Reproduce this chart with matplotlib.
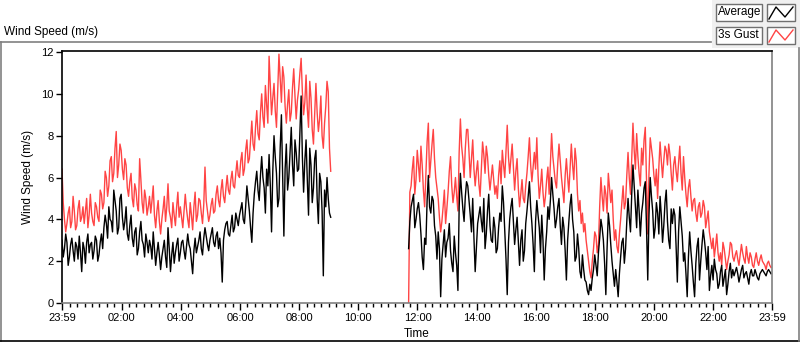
import numpy as np
import matplotlib.pyplot as plt
from matplotlib.lines import Line2D
from matplotlib.patches import Rectangle

plt.rcParams['font.family'] = ['Liberation Sans', 'DejaVu Sans']

# ---- data: minutes after midnight, one reading every 2.5 min ----
STEP = 2.5
start_a = -1     # 23:59 (previous day)
start_b = 702    # 11:42, after the logging gap

gust_a = [6.4, 4.8, 4.0, 3.4, 3.8, 4.3, 4.6, 3.6, 3.9, 5.1, 4.4, 3.5, 3.7, 4.5, 4.9, 3.9, 4.1, 4.6, 3.8, 4.4, 5.0, 3.6, 4.2, 5.2,
          4.3, 3.9, 3.7, 4.8, 4.6, 4.1, 3.9, 5.4, 5.2, 4.5, 4.8, 6.3, 6.0, 5.1, 5.6, 6.8, 7.0, 5.8, 6.2, 7.4, 8.2, 6.0, 6.6, 7.6,
          7.3, 6.4, 5.9, 6.9, 6.6, 5.5, 5.1, 5.8, 6.2, 5.0, 4.6, 5.7, 5.4, 4.7, 4.4, 6.9, 5.9, 4.8, 4.3, 5.4, 5.0, 4.2, 4.6, 5.1,
          4.3, 4.9, 5.6, 4.2, 3.6, 4.4, 4.9, 3.9, 3.3, 4.0, 4.5, 5.1, 3.9, 4.6, 5.7, 4.4, 4.1, 3.6, 4.8, 4.2, 3.7, 4.6, 5.3, 4.1,
          4.6, 4.1, 3.6, 4.4, 5.2, 4.5, 4.0, 3.6, 4.8, 4.2, 3.5, 4.6, 5.3, 3.9, 4.2, 5.0, 4.9, 4.3, 3.8, 4.7, 6.5, 4.9, 4.4, 3.9,
          4.2, 4.7, 5.0, 4.3, 4.4, 5.2, 5.6, 4.9, 4.6, 5.4, 5.9, 5.1, 4.8, 5.5, 6.1, 5.4, 5.2, 5.9, 6.3, 5.6, 5.5, 6.2, 6.8, 6.1,
          6.0, 6.8, 7.2, 6.1, 6.4, 7.3, 7.8, 6.7, 6.9, 7.8, 8.7, 7.6, 7.3, 8.4, 9.2, 8.1, 7.8, 9.1, 10.0, 8.9, 8.4, 10.4, 9.5, 8.6,
          11.8, 10.4, 9.0, 9.8, 10.5, 9.2, 8.4, 10.1, 11.9, 10.7, 9.6, 11.3, 10.8, 9.4, 8.6, 9.5, 10.2, 8.7, 9.1, 10.3, 11.2, 9.9, 8.8, 9.7,
          10.2, 11.0, 11.7, 10.1, 9.0, 9.6, 10.9, 9.3, 8.4, 10.6, 9.8, 8.3, 7.6, 9.0, 10.5, 9.1, 8.2, 8.8, 9.9, 8.0, 7.4, 8.6, 9.4, 10.6,
          10.1, 7.4, 6.3]
avg_a = [3.0, 2.2, 2.6, 3.3, 2.9, 1.8, 2.2, 2.8, 3.1, 2.5, 2.0, 2.9, 2.7, 2.1, 3.2, 2.4, 1.5, 2.9, 2.6, 1.9, 2.9, 3.3, 2.4, 2.8,
         2.9, 2.1, 2.5, 3.2, 3.0, 2.0, 2.3, 2.9, 3.3, 2.6, 3.6, 4.2, 3.8, 3.1, 4.6, 4.0, 3.9, 3.4, 5.4, 4.9, 4.4, 3.3, 3.6, 5.0,
         5.2, 4.1, 3.5, 3.9, 4.6, 3.3, 3.0, 3.7, 4.2, 3.1, 2.7, 3.4, 3.6, 2.3, 2.6, 3.4, 3.9, 3.0, 2.8, 2.2, 3.3, 2.9, 2.4, 3.0,
         2.7, 2.1, 3.4, 2.6, 1.8, 2.4, 2.9, 2.3, 1.6, 2.2, 2.6, 3.0, 2.2, 1.7, 3.6, 2.6, 1.5, 2.3, 2.9, 1.9, 2.4, 2.8, 3.1, 2.0,
         2.4, 2.9, 3.0, 2.5, 2.1, 2.7, 3.3, 2.8, 2.6, 2.0, 1.4, 2.5, 3.1, 2.4, 2.7, 3.0, 3.4, 2.6, 2.3, 3.1, 3.6, 3.2, 2.8, 2.5,
         3.0, 3.3, 3.6, 2.9, 2.7, 3.2, 3.4, 2.6, 3.1, 2.4, 1.0, 3.0, 3.5, 3.8, 3.9, 3.3, 3.2, 3.7, 4.2, 3.4, 3.6, 4.3, 4.0, 3.7,
         4.2, 4.5, 4.8, 4.0, 3.8, 4.6, 5.6, 5.0, 4.4, 3.6, 2.9, 4.3, 5.2, 5.8, 6.3, 5.4, 4.9, 6.1, 7.0, 6.0, 5.5, 4.3, 6.4, 5.6,
         7.1, 5.6, 3.4, 6.3, 8.0, 7.0, 6.2, 4.6, 5.0, 7.4, 9.0, 6.1, 3.2, 6.4, 7.6, 5.4, 6.0, 7.2, 8.4, 6.6, 5.6, 7.8, 7.2, 6.3,
         6.4, 8.1, 9.9, 7.0, 5.3, 6.8, 7.8, 5.9, 4.2, 7.4, 6.6, 4.8, 5.5, 6.9, 7.3, 5.0, 3.8, 6.2, 5.8, 4.4, 1.3, 5.4, 4.6, 6.0,
         5.0, 4.3, 4.1]

gust_b = [0.0, 5.3, 5.6, 6.4, 7.0, 5.2, 5.9, 7.3, 6.6, 5.8, 7.5, 6.6, 5.4, 4.6, 6.2, 7.7, 8.6, 6.0, 6.8, 7.6, 8.3, 6.9, 6.0, 5.5,
          5.0, 4.1, 3.4, 3.9, 4.6, 5.4, 3.8, 4.5, 5.3, 6.3, 7.0, 5.6, 4.8, 5.3, 6.0, 5.1, 4.4, 7.2, 8.8, 7.5, 6.9, 6.0, 7.4, 8.3,
          8.3, 7.2, 6.0, 6.9, 7.8, 6.4, 5.6, 6.3, 6.8, 5.7, 5.1, 6.4, 7.7, 7.1, 6.2, 7.5, 7.0, 6.1, 5.4, 6.0, 6.6, 5.9, 5.2, 5.6,
          5.0, 6.1, 6.8, 5.7, 7.3, 6.6, 6.0, 7.2, 8.5, 7.0, 6.2, 6.9, 7.6, 6.5, 5.4, 6.3, 6.9, 5.5, 4.6, 5.2, 5.9, 5.0, 4.8, 5.6,
          6.2, 7.0, 7.9, 6.6, 5.8, 6.5, 7.2, 6.4, 7.9, 6.1, 5.0, 5.6, 6.4, 5.3, 4.6, 5.1, 5.9, 6.5, 5.2, 6.6, 8.1, 7.0, 6.4, 5.8,
          5.5, 6.7, 7.6, 6.8, 6.0, 5.4, 4.8, 6.1, 6.9, 6.0, 5.3, 6.5, 7.6, 6.6, 5.9, 7.4, 6.8, 5.2, 4.4, 4.9, 3.8, 4.3, 3.4, 3.8,
          3.0, 2.5, 2.0, 1.5, 1.2, 2.0, 2.6, 3.4, 3.2, 2.4, 2.8, 4.6, 6.0, 5.1, 4.4, 5.6, 5.2, 4.3, 6.2, 5.5, 4.8, 5.4, 4.0, 3.0,
          3.5, 2.7, 2.4, 3.3, 4.0, 4.8, 5.6, 4.5, 4.8, 6.1, 7.2, 6.0, 5.2, 6.9, 8.6, 7.3, 6.4, 8.1, 7.0, 6.2, 5.6, 7.4, 6.6, 7.8,
          8.4, 5.8, 3.3, 6.2, 7.9, 7.4, 6.9, 6.1, 5.6, 6.4, 5.0, 6.5, 7.7, 6.8, 6.0, 6.8, 7.5, 7.3, 6.6, 7.6, 7.1, 6.2, 5.4, 6.6,
          7.0, 6.3, 5.8, 6.7, 7.5, 6.2, 5.4, 7.0, 6.0, 5.2, 4.6, 5.5, 5.9, 5.1, 4.4, 4.9, 5.0, 4.3, 3.9, 4.6, 4.8, 4.1, 4.3, 4.9,
          4.6, 3.6, 4.0, 4.4, 3.4, 3.0, 2.6, 3.1, 2.2, 2.7, 3.3, 2.4, 2.0, 2.4, 1.8, 2.9, 2.6, 2.1, 1.6, 2.0, 2.3, 2.9, 2.8, 2.2,
          2.0, 2.3, 2.5, 2.1, 1.8, 2.3, 2.8, 2.4, 2.1, 1.9, 2.7, 2.2, 1.9, 2.4, 2.2, 1.8, 1.7, 2.1, 2.4, 2.0, 1.8, 2.1, 2.3, 2.0,
          1.9, 1.8, 1.6, 1.9, 2.0, 1.8, 1.7]
avg_b = [2.6, 3.9, 4.6, 4.9, 5.2, 3.6, 4.0, 4.5, 4.8, 4.2, 3.3, 2.2, 1.6, 3.1, 2.8, 4.9, 6.1, 4.6, 4.3, 5.1, 4.9, 3.7, 3.2, 2.1,
         3.4, 2.6, 0.3, 2.1, 2.8, 3.5, 2.2, 2.9, 3.1, 3.8, 2.5, 1.9, 1.5, 3.2, 2.4, 1.8, 0.6, 4.6, 6.2, 5.3, 4.5, 3.9, 5.1, 5.8,
         5.6, 4.9, 4.2, 3.4, 5.0, 3.1, 1.5, 2.7, 3.8, 4.2, 4.6, 3.9, 3.4, 5.0, 2.6, 3.3, 4.4, 5.2, 3.7, 3.0, 2.9, 4.1, 3.6, 2.4,
         2.6, 3.6, 4.3, 3.9, 5.6, 4.8, 3.4, 2.1, 0.4, 2.9, 4.0, 4.6, 5.0, 3.9, 2.8, 3.5, 4.1, 2.9, 1.8, 3.0, 3.5, 2.0, 2.5, 3.8,
         4.4, 5.1, 5.8, 4.6, 3.8, 2.8, 1.5, 3.9, 4.9, 4.2, 3.6, 2.4, 4.2, 3.0, 1.1, 2.6, 3.4, 4.6, 4.0, 4.9, 6.0, 5.2, 4.5, 3.6,
         4.0, 4.6, 5.0, 3.7, 2.8, 4.1, 3.6, 2.5, 1.1, 3.0, 3.9, 4.7, 5.2, 4.0, 3.4, 2.0, 2.2, 3.3, 2.6, 1.5, 1.2, 2.3, 1.6, 1.1,
         1.0, 0.6, 0.4, 0.9, 0.6, 1.2, 1.6, 2.3, 1.8, 1.3, 2.4, 3.1, 4.0, 3.6, 3.0, 1.9, 0.4, 2.6, 4.3, 3.7, 2.8, 2.0, 1.4, 0.8,
         1.6, 1.0, 0.3, 1.4, 2.2, 2.9, 3.1, 1.9, 2.6, 3.9, 5.0, 4.1, 3.4, 5.2, 6.6, 5.6, 4.6, 3.6, 5.4, 4.4, 3.2, 4.3, 4.8, 5.5,
         5.8, 3.6, 1.1, 4.2, 6.0, 5.1, 4.4, 3.1, 3.6, 4.8, 4.3, 3.3, 5.1, 4.2, 2.9, 3.7, 4.8, 5.4, 3.9, 3.0, 2.6, 4.5, 3.8, 4.5,
         4.2, 2.7, 1.0, 3.4, 4.6, 3.9, 3.2, 2.0, 2.4, 1.4, 0.3, 2.2, 3.4, 2.5, 1.8, 1.0, 0.3, 1.9, 2.7, 3.1, 1.1, 2.0, 2.8, 3.5,
         3.0, 2.4, 1.6, 2.7, 0.6, 1.3, 1.8, 1.1, 2.1, 1.6, 1.4, 0.7, 0.9, 1.5, 1.8, 0.8, 1.2, 1.6, 0.4, 0.9, 1.5, 1.9, 1.2, 1.6,
         1.3, 1.5, 1.7, 1.4, 1.0, 1.3, 1.6, 1.8, 1.2, 1.4, 1.5, 1.2, 0.9, 1.4, 1.6, 1.3, 1.3, 1.6, 1.4, 1.2, 1.1, 1.4, 1.5, 1.6,
         1.5, 1.4, 1.3, 1.5, 1.6, 1.5, 1.4]

tick_pos = [-1, 120, 240, 360, 480, 600, 720, 840, 960, 1080, 1200, 1320, 1439]
tick_lab = ["23:59", "02:00", "04:00", "06:00", "08:00", "10:00", "12:00",
            "14:00", "16:00", "18:00", "20:00", "22:00", "23:59"]
y_ticks = [0, 2, 4, 6, 8, 10, 12]

t_a = start_a + STEP * np.arange(len(gust_a))
t_b = start_b + STEP * np.arange(len(gust_b))

RED = "#ff4444"

# ---- figure ----
W, H = 800, 342
fig = plt.figure(figsize=(W / 100, H / 100), dpi=100)

ax = fig.add_axes([62 / W, 1 - 303 / H, (772 - 62) / W, (303 - 51) / H])
for t, g in ((t_a, gust_a), (t_b, gust_b)):
    ax.plot(t, g, color=RED, lw=1.0)
for t, a in ((t_a, avg_a), (t_b, avg_b)):
    ax.plot(t, a, color="black", lw=1.0)

ax.set_xlim(-1, 1439)
ax.set_ylim(0, 12.05)
ax.set_xticks(tick_pos)
ax.set_xticklabels(tick_lab)
ax.set_xticks([m for m in range(15, 1439, 15) if m % 120 != 0], minor=True)
ax.set_yticks(y_ticks)
ax.tick_params(axis="both", labelsize=8, colors="black", width=1)
ax.tick_params(axis="x", which="major", length=5, pad=2)
ax.tick_params(axis="x", which="minor", length=3, width=1)
ax.tick_params(axis="y", length=4, pad=2)
ax.spines["top"].set_color("black")
ax.spines["left"].set_color("black")
ax.spines["bottom"].set_color("#808080")
ax.spines["right"].set_color("#808080")
for s in ax.spines.values():
    s.set_linewidth(1.2)
ax.set_xlabel("Time", fontsize=8.5, labelpad=4)
ax.set_ylabel("Wind Speed (m/s)", fontsize=8.5, labelpad=5)

# ---- frame, title and legend boxes (pixel coordinates) ----
ov = fig.add_axes([0, 0, 1, 1], facecolor="none")
ov.set_xlim(0, W)
ov.set_ylim(H, 0)
ov.axis("off")

ov.add_patch(Rectangle((712, 0), 88, 48, facecolor="#f0f0f0", edgecolor="none"))
ov.add_line(Line2D([0, 711], [42, 42], color="#808080", lw=1.2))
ov.add_line(Line2D([0.6, 0.6], [42, 341], color="#808080", lw=1.2))
ov.add_line(Line2D([0, 800], [340.8, 340.8], color="black", lw=1.2))
ov.add_line(Line2D([799.2, 799.2], [48, 341], color="#808080", lw=1.2))
ov.text(4, 32, "Wind Speed (m/s)", fontsize=8.5, va="center", ha="left")

for y0, name, col in ((4, "Average", "black"), (27, "3s Gust", RED)):
    ov.add_patch(Rectangle((716, y0), 46, 17, facecolor="white",
                           edgecolor="#707070", lw=1.0))
    ov.add_patch(Rectangle((767, y0), 28, 17, facecolor="white",
                           edgecolor="#707070", lw=1.0))
    ov.text(718, y0 + 8.5, name, fontsize=8.5, va="center", ha="left")
    ov.add_line(Line2D([769, 776, 785, 793],
                       [y0 + 15, y0 + 3, y0 + 13, y0 + 3], color=col, lw=1.0))

fig.savefig("out.png", dpi=100)
